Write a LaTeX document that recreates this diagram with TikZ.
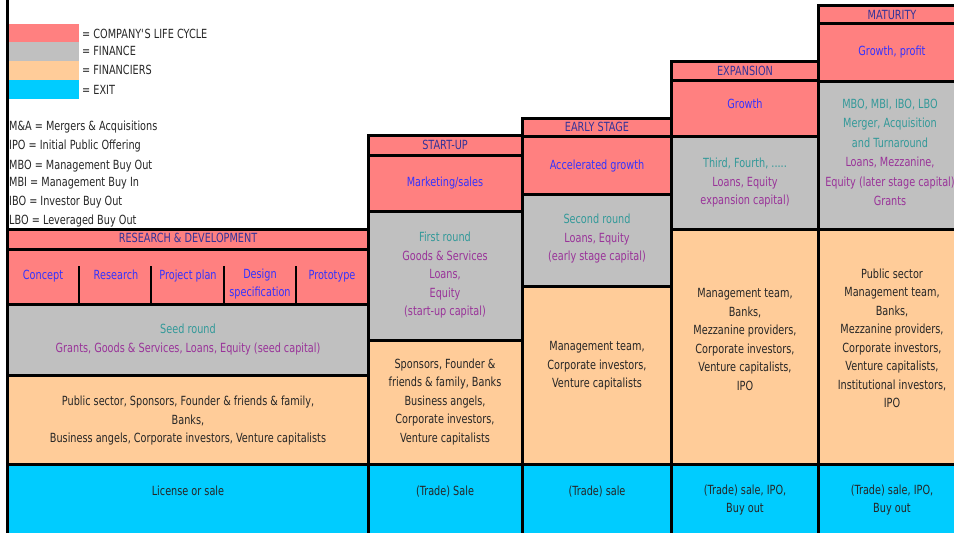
\documentclass[tikz,border=0pt]{standalone}
\usepackage{fontspec}
\setmainfont{DejaVu Sans}[FakeStretch=0.77]
\usetikzlibrary{calc}
\definecolor{lcpink}{HTML}{FF8080}
\definecolor{fingray}{HTML}{C0C0C0}
\definecolor{frpeach}{HTML}{FFCC99}
\definecolor{excyan}{HTML}{00CCFF}
\definecolor{hdrtxt}{HTML}{333399}
\definecolor{lctxt}{HTML}{3333FF}
\definecolor{tealtxt}{HTML}{339999}
\definecolor{purptxt}{HTML}{993399}
\definecolor{darktxt}{HTML}{262626}
\newcommand{\mkcell}[6]{\node[cell,fill=#6,minimum width={#3-#1},minimum height={#4-#2}] (#5) at (#1,#2) {};}
\begin{document}
\begin{tikzpicture}[x=1pt,y=-1pt,
  cell/.style={draw=black,line width=3pt,inner sep=0pt,outer sep=0pt,anchor=north west},
  swatch/.style={inner sep=0pt,outer sep=0pt,anchor=north west,minimum width=70pt},
  txtbase/.style={inner sep=0pt,font=\fontsize{12.6}{18.5}\selectfont},
  t/.style={txtbase,text height=9.2pt,text depth=0pt},
  tl/.style={t,anchor=west,text=darktxt},
  m/.style={txtbase,align=center},
  hdr/.style={t,text=hdrtxt},
  lc/.style={t,text=lctxt},
  dk/.style={m,text=darktxt},
  fin/.style={m,text=purptxt},
  divider/.style={line width=2pt},
  border/.style={line width=3pt}
]
\useasboundingbox (0,0) rectangle (954,533);
\clip (0,0) rectangle (954,533);
\fill[white] (0,0) rectangle (954,533);

% legend
\node[swatch,fill=lcpink,minimum height=18pt] (sw1) at (9,24) {};
\node[swatch,fill=fingray,minimum height=19pt] (sw2) at (9,42) {};
\node[swatch,fill=frpeach,minimum height=19pt] (sw3) at (9,61) {};
\node[swatch,fill=excyan,minimum height=19pt] (sw4) at (9,80) {};
\node[tl] (lg1) at (82,34) {= COMPANY\textquotesingle S LIFE CYCLE};
\node[tl] (lg2) at (82,51) {= FINANCE};
\node[tl] (lg3) at (82,70) {= FINANCIERS};
\node[tl] (lg4) at (82,90) {= EXIT};

\node[tl] (ab1) at (9,126) {M\&A = Mergers \& Acquisitions};
\node[tl] (ab2) at (9,145) {IPO = Initial Public Offering};
\node[tl] (ab3) at (9,165) {MBO = Management Buy Out};
\node[tl] (ab4) at (9,182) {MBI = Management Buy In};
\node[tl] (ab5) at (9,201) {IBO = Investor Buy Out};
\node[tl] (ab6) at (9,220) {LBO = Leveraged Buy Out};

% column 1: research & development
\mkcell{7}{229}{368}{249}{rd_h}{lcpink}
\mkcell{7}{249}{368}{304}{rd_lc}{lcpink}
\mkcell{7}{304}{368}{375}{rd_fin}{fingray}
\mkcell{7}{375}{368}{464}{rd_fr}{frpeach}
\mkcell{7}{464}{368}{545}{rd_ex}{excyan}
% column 2: start-up
\mkcell{368}{135}{522}{155}{su_h}{lcpink}
\mkcell{368}{155}{522}{211}{su_lc}{lcpink}
\mkcell{368}{211}{522}{340}{su_fin}{fingray}
\mkcell{368}{340}{522}{464}{su_fr}{frpeach}
\mkcell{368}{464}{522}{545}{su_ex}{excyan}
% column 3: early stage
\mkcell{522}{118}{671}{136}{es_h}{lcpink}
\mkcell{522}{136}{671}{194}{es_lc}{lcpink}
\mkcell{522}{194}{671}{286}{es_fin}{fingray}
\mkcell{522}{286}{671}{464}{es_fr}{frpeach}
\mkcell{522}{464}{671}{545}{es_ex}{excyan}
% column 4: expansion
\mkcell{671}{61}{818}{80}{ex_h}{lcpink}
\mkcell{671}{80}{818}{136}{ex_lc}{lcpink}
\mkcell{671}{136}{818}{229}{ex_fin}{fingray}
\mkcell{671}{229}{818}{464}{ex_fr}{frpeach}
\mkcell{671}{464}{818}{545}{ex_ex}{excyan}
% column 5: maturity
\mkcell{818}{5}{966}{23}{mt_h}{lcpink}
\mkcell{818}{23}{966}{81}{mt_lc}{lcpink}
\mkcell{818}{81}{966}{229}{mt_fin}{fingray}
\mkcell{818}{229}{966}{464}{mt_fr}{frpeach}
\mkcell{818}{464}{966}{545}{mt_ex}{excyan}

% left border
\coordinate (ltop) at (7,-5);
\draw[border] (ltop) -- (rd_h.north west);

% R&D sub-dividers
\coordinate (d1) at (79,266);
\coordinate (d2) at (151,266);
\coordinate (d3) at (224,266);
\coordinate (d4) at (296,266);
\draw[divider] (d1) -- (d1 |- rd_lc.south);
\draw[divider] (d2) -- (d2 |- rd_lc.south);
\draw[divider] (d3) -- (d3 |- rd_lc.south);
\draw[divider] (d4) -- (d4 |- rd_lc.south);

% texts column 1
\node[hdr] (rd_ht) at (188,238) {RESEARCH \& DEVELOPMENT};
\node[lc] (c1) at (43,275) {Concept};
\node[lc] (c2) at (116,275) {Research};
\node[lc] (c3) at (188,275) {Project plan};
\node[m,text=lctxt] (c4) at (260,284) {Design\\specification};
\node[lc] (c5) at (332,275) {Prototype};
\node[fin] (rd_ft) at (188,339.5) {\textcolor{tealtxt}{Seed round}\\Grants, Goods \& Services, Loans, Equity (seed capital)};
\node[dk] (rd_frt) at (188,421) {Public sector, Sponsors, Founder \& friends \& family,\\Banks,\\Business angels, Corporate investors, Venture capitalists};
\node[t,text=darktxt] (rd_ext) at (188,491) {License or sale};

% texts column 2
\node[hdr] (su_ht) at (445,145) {START-UP};
\node[lc] (su_lct) at (445,182) {Marketing/sales};
\node[fin] (su_ft) at (445,275.5) {\textcolor{tealtxt}{First round}\\Goods \& Services\\Loans,\\Equity\\(start-up capital)};
\node[dk] (su_frt) at (445,402) {Sponsors, Founder \&\\friends \& family, Banks\\Business angels,\\Corporate investors,\\Venture capitalists};
\node[t,text=darktxt] (su_ext) at (445,491) {(Trade) Sale};

% texts column 3
\node[hdr] (es_ht) at (597,127) {EARLY STAGE};
\node[lc] (es_lct) at (597,165) {Accelerated growth};
\node[fin] (es_ft) at (597,239) {\textcolor{tealtxt}{Second round}\\Loans, Equity\\(early stage capital)};
\node[dk] (es_frt) at (597,366) {Management team,\\Corporate investors,\\Venture capitalists};
\node[t,text=darktxt] (es_ext) at (597,491) {(Trade) sale};

% texts column 4
\node[hdr] (ex_ht) at (745,71) {EXPANSION};
\node[lc] (ex_lct) at (745,104) {Growth};
\node[fin] (ex_ft) at (745,183) {\textcolor{tealtxt}{Third, Fourth, .....}\\Loans, Equity\\expansion capital)};
\node[dk] (ex_frt) at (745,339.5) {Management team,\\Banks,\\Mezzanine providers,\\Corporate investors,\\Venture capitalists,\\IPO};
\node[dk] (ex_ext) at (745,500) {(Trade) sale, IPO,\\Buy out};

% texts column 5
\node[hdr] (mt_ht) at (892,15) {MATURITY};
\node[lc] (mt_lct) at (892,51) {Growth, profit};
\node[fin,font=\fontsize{12.6}{19.5}\selectfont] (mt_ft) at (890,152.5) {\textcolor{tealtxt}{MBO, MBI, IBO, LBO}\\\textcolor{tealtxt}{Merger, Acquisition}\\\textcolor{tealtxt}{and Turnaround}\\Loans, Mezzanine,\\Equity (later stage capital)\\Grants};
\node[dk] (mt_frt) at (892,338.5) {Public sector\\Management team,\\Banks,\\Mezzanine providers,\\Corporate investors,\\Venture capitalists,\\Institutional investors,\\IPO};
\node[dk] (mt_ext) at (892,500) {(Trade) sale, IPO,\\Buy out};
\end{tikzpicture}
\end{document}
